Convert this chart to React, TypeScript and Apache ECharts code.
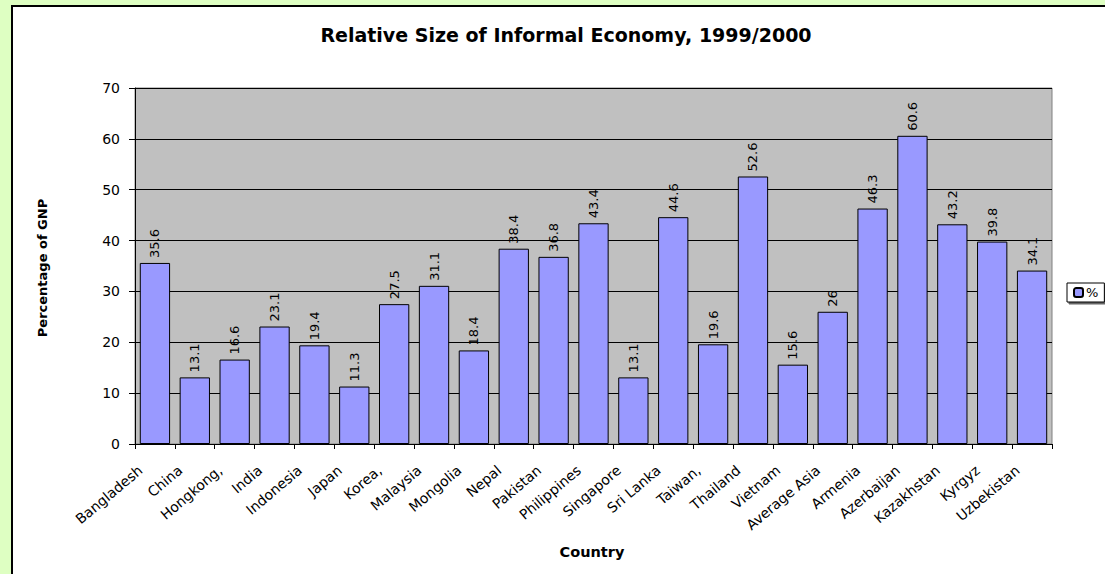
import React, { useEffect, useRef } from "react";
import * as echarts from "echarts";

const categories = [
  "Bangladesh", "China", "Hongkong,", "India", "Indonesia", "Japan", "Korea,", "Malaysia",
  "Mongolia", "Nepal", "Pakistan", "Philippines", "Singapore", "Sri Lanka", "Taiwan,",
  "Thailand", "Vietnam", "Average Asia", "Armenia", "Azerbaijan", "Kazakhstan", "Kyrgyz", "Uzbekistan",
];
const values = [
  35.6, 13.1, 16.6, 23.1, 19.4, 11.3, 27.5, 31.1, 18.4, 38.4, 36.8, 43.4,
  13.1, 44.6, 19.6, 52.6, 15.6, 26, 46.3, 60.6, 43.2, 39.8, 34.1,
];
const seriesName = "%";
const titleText = "Relative Size of Informal Economy, 1999/2000";
const yName = "Percentage of GNP";
const xName = "Country";

const FONT = "'DejaVu Sans', sans-serif";

export default function App() {
  const ref = useRef<HTMLDivElement>(null);
  useEffect(() => {
    if (!ref.current) return;
    const chart = echarts.init(ref.current, null, { renderer: "svg" });
    chart.setOption({
      animation: false,
      backgroundColor: "#DEFFC2",
      textStyle: { fontFamily: FONT },
      graphic: [
        {
          type: "rect",
          shape: { x: 12, y: 6, width: 1200, height: 700 },
          style: { fill: "#FFFFFF", stroke: "#000000", lineWidth: 2 },
          z: -10,
          silent: true,
        },
        {
          type: "text",
          x: 566,
          y: 35,
          style: {
            text: titleText,
            font: `bold 19px ${FONT}`,
            fill: "#000",
            textAlign: "center",
            textVerticalAlign: "middle",
          },
        },
        {
          type: "text",
          x: 592,
          y: 552,
          style: {
            text: xName,
            font: `bold 14.5px ${FONT}`,
            fill: "#000",
            textAlign: "center",
            textVerticalAlign: "middle",
          },
        },
        {
          type: "text",
          x: 42,
          y: 268,
          rotation: Math.PI / 2,
          style: {
            text: yName,
            font: `bold 13px ${FONT}`,
            fill: "#000",
            textAlign: "center",
            textVerticalAlign: "middle",
          },
        },
      ],
      legend: {
        left: 1067,
        top: 283,
        orient: "vertical",
        data: [seriesName],
        itemWidth: 9,
        itemHeight: 9,
        itemGap: 4,
        padding: [3, 6, 3, 6],
        borderColor: "#000",
        borderWidth: 1,
        backgroundColor: "#fff",
        shadowColor: "rgba(0,0,0,0.6)",
        shadowOffsetX: 2,
        shadowOffsetY: 2,
        textStyle: { fontFamily: FONT, fontSize: 13, color: "#000", padding: [0, 0, 0, -2] },
      },
      grid: {
        left: 135,
        top: 88,
        right: 53,
        bottom: 130,
        show: true,
        backgroundColor: "#C0C0C0",
        borderColor: "#808080",
        borderWidth: 1,
        containLabel: false,
      },
      xAxis: {
        type: "category",
        data: categories,
        axisLine: { lineStyle: { color: "#000", width: 1 } },
        axisTick: { show: true, alignWithLabel: false, length: 5, lineStyle: { color: "#000" } },
        axisLabel: {
          rotate: 40,
          interval: 0,
          fontFamily: FONT,
          fontSize: 14,
          color: "#000",
          margin: 12,
          padding: [0, 19, 0, 0],
        },
      },
      yAxis: {
        type: "value",
        min: 0,
        max: 70,
        interval: 10,
        axisLine: { show: true, lineStyle: { color: "#000", width: 1 } },
        axisTick: { show: true, length: 6, lineStyle: { color: "#000" } },
        axisLabel: { fontFamily: FONT, fontSize: 14, color: "#000", margin: 15 },
        splitLine: { show: true, lineStyle: { color: "#000", width: 1 } },
      },
      series: [
        {
          name: seriesName,
          type: "bar",
          data: values,
          barCategoryGap: "24%",
          itemStyle: { color: "#9999FF", borderColor: "#000", borderWidth: 1 },
          label: {
            show: true,
            position: "top",
            rotate: 90,
            align: "left",
            verticalAlign: "middle",
            distance: 5,
            fontFamily: FONT,
            fontSize: 13,
            color: "#000",
          },
        },
      ],
    });
    return () => chart.dispose();
  }, []);
  return (
    <div
      ref={ref}
      style={{ position: "absolute", left: 0, top: 0, width: 1105, height: 574 }}
    />
  );
}
